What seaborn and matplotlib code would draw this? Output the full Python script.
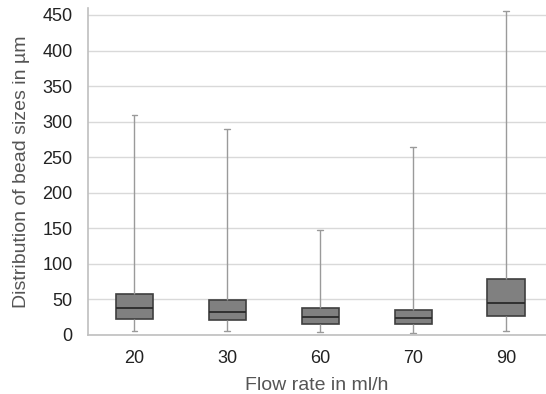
import pandas as pd
import seaborn as sns
import matplotlib.pyplot as plt

# five-number summaries: min, Q1, median, Q3, max
flow_rates = ["20", "30", "60", "70", "90"]
minimum = [6, 6, 4, 3, 5]
q1 = [23, 21, 16, 15, 27]
median = [37.5, 32.5, 25, 23.5, 45.5]
q3 = [57.5, 49, 38.5, 35.5, 79]
maximum = [310, 289, 148, 265, 456]

rows = []
for i, rate in enumerate(flow_rates):
    for v in (minimum[i], q1[i], median[i], q3[i], maximum[i]):
        rows.append({"Flow rate": rate, "Size": v})
df = pd.DataFrame(rows)

sns.set_style("white")
plt.rcParams["font.family"] = ["Liberation Sans", "DejaVu Sans"]

fig = plt.figure(figsize=(5.46, 3.94), dpi=100)
ax = fig.add_axes([0.161, 0.150, 0.839, 0.830])

sns.boxplot(
    data=df, x="Flow rate", y="Size", order=flow_rates,
    whis=(0, 100), width=0.4, color="#808080", saturation=1,
    linewidth=1.2, showfliers=False, ax=ax,
    boxprops=dict(edgecolor="#3f3f3f", facecolor="#808080"),
    medianprops=dict(color="#2a2a2a", linewidth=1.3),
    whiskerprops=dict(color="#9a9a9a", linewidth=1.0),
    capprops=dict(color="#9a9a9a", linewidth=1.0),
)

# short whisker caps
for line in ax.lines:
    xd = line.get_xdata()
    if len(xd) == 2 and xd[0] != xd[1]:
        yd = line.get_ydata()
        if yd[0] == yd[1] and abs(xd[1] - xd[0]) < 0.35:
            c = (xd[0] + xd[1]) / 2
            line.set_xdata([c - 0.03, c + 0.03])

ax.set_ylim(0, 460)
ax.set_xlim(-0.5, 4.43)
ax.set_yticks(range(0, 451, 50))
ax.yaxis.grid(True, color="#d9d9d9", linewidth=1.0)
ax.set_axisbelow(True)
for s in ("top", "right"):
    ax.spines[s].set_visible(False)
for s in ("left", "bottom"):
    ax.spines[s].set_color("#bfbfbf")
    ax.spines[s].set_linewidth(1.2)
ax.tick_params(axis="both", length=0, labelsize=13, colors="#222222", pad=11)
ax.set_xlabel("Flow rate in ml/h", fontsize=14, color="#555555", labelpad=7)
ax.set_ylabel("Distribution of bead sizes in µm", fontsize=14, color="#555555", labelpad=9)

fig.savefig("out.png", dpi=100)
